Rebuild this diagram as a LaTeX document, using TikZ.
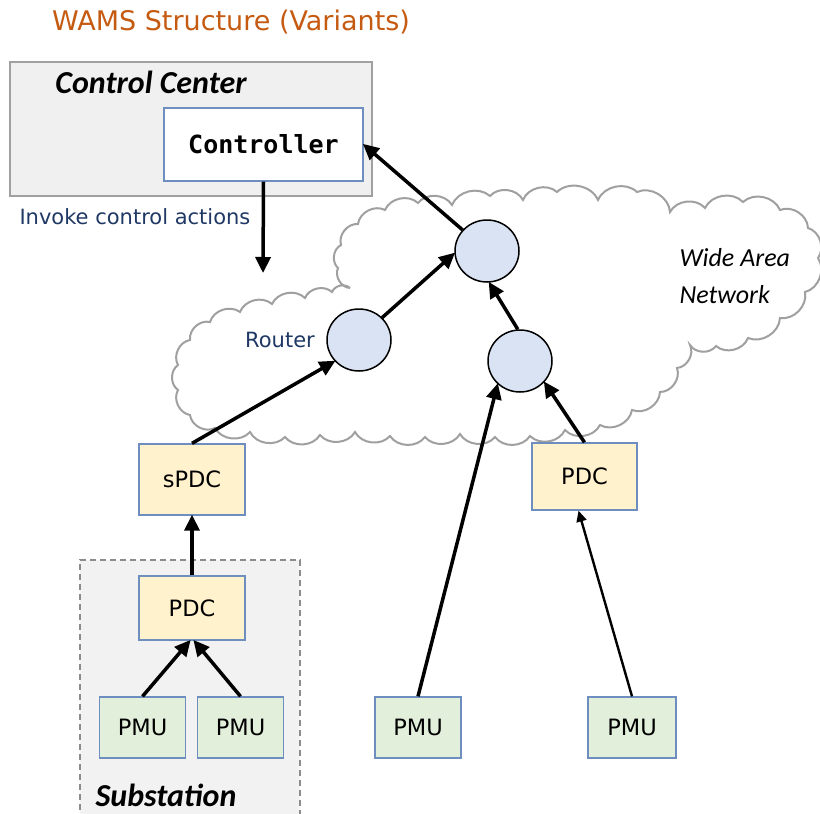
\documentclass[tikz,border=0pt]{standalone}
\usepackage{fontspec}
\setmainfont{DejaVu Sans}
\newfontfamily\calib{Carlito}
\newfontfamily\monofam{DejaVu Sans Mono}
\usetikzlibrary{arrows.meta,shapes.geometric}

\definecolor{titleorange}{RGB}{197,90,17}
\definecolor{navy}{RGB}{31,56,100}
\definecolor{boxedge}{RGB}{109,142,191}
\definecolor{pdcfill}{RGB}{255,242,204}
\definecolor{pmufill}{RGB}{226,239,218}
\definecolor{routerfill}{RGB}{218,227,243}
\definecolor{panelfill}{RGB}{240,240,240}
\definecolor{paneledge}{RGB}{160,160,160}
\definecolor{cloudedge}{RGB}{160,160,160}

\tikzset{
  unitbox/.style={draw=boxedge, line width=1.3pt, inner sep=0pt,
    font=\fontsize{22.5}{26}\selectfont},
  pdcbox/.style={unitbox, fill=pdcfill, minimum width=106pt, minimum height=68pt},
  pmubox/.style={unitbox, fill=pmufill, minimum width=86pt, minimum height=61pt},
  router/.style={ellipse, draw=black, line width=1.5pt, fill=routerfill,
    minimum width=64pt, minimum height=62pt, inner sep=0pt},
  flow/.style={line width=3.5pt, -{Triangle[length=16pt,width=15pt]}, shorten >=-1pt},
  thinflow/.style={line width=2.4pt, -{Triangle[length=11pt,width=10pt]}},
  panelhead/.style={font=\calib\bfseries\itshape\fontsize{32}{36}\selectfont},
  bluelabel/.style={text=navy, font=\fontsize{21}{25}\selectfont},
  scallop/.style={bend left=55},
}

\begin{document}
\begin{tikzpicture}[x=1pt, y=-1pt]
\useasboundingbox (0,0) rectangle (820,814);

% title
\node[text=titleorange, font=\fontsize{27}{32}\selectfont] (title) at (231,22) {WAMS Structure (Variants)};

% control center panel
\draw[fill=panelfill, draw=paneledge, line width=1.3pt] (10,62) rectangle (372,196);
\node[panelhead] (cclabel) at (151,82) {Control Center};
\node[draw=boxedge, fill=white, line width=1.2pt, minimum width=199pt, minimum height=73pt, inner sep=0pt,
  font=\monofam\bfseries\fontsize{25}{30}\selectfont]
  (ctrl) at (263.5,144.5) {Controller};

% substation panel
\fill[black!5] (80,560) rectangle (300,820);
\draw[draw=black!45, dash pattern=on 6pt off 4pt, line width=1.2pt] (80,820) -- (80,560) -- (300,560) -- (300,820);
\node[panelhead] (sublabel) at (166,795) {Substation};

% wide area network cloud
\draw[draw=cloudedge, fill=white, line width=2pt]
  (350,288) to[scallop] (338,268) to[scallop] (341,245) to[scallop] (358,224)
  to[scallop] (385,210) to[scallop] (418,203) to[scallop] (452,205) to[scallop] (490,196)
  to[scallop] (523,200) to[scallop] (557,192) to[scallop] (598,200) to[scallop] (637,192)
  to[scallop] (670,212) to[scallop] (705,208) to[scallop] (743,202) to[scallop] (780,210)
  to[scallop] (808,228) to[scallop] (818,258) to[scallop] (805,292) to[scallop] (780,318)
  to[scallop] (748,338) to[scallop] (716,346) to[scallop] (690,345) to[scallop] (677,368)
  to[scallop] (660,392) to[scallop] (632,410) to[scallop] (600,425) to[scallop] (565,430)
  to[scallop] (530,436) to[scallop] (495,437) to[scallop] (460,434) to[scallop] (425,437)
  to[scallop] (390,436) to[scallop] (355,432) to[scallop] (320,435) to[scallop] (285,437)
  to[scallop] (250,432) to[scallop] (215,428) to[scallop] (190,415) to[scallop] (178,390)
  to[scallop] (178,365) to[scallop] (190,340) to[scallop] (210,322) to[scallop] (240,312)
  to[scallop] (272,304) to[scallop] (305,298) to[scallop] (332,292) to[scallop] (350,288);
\node[align=left, anchor=west, font=\calib\itshape\fontsize{26}{37}\selectfont] (wan) at (676,276)
  {Wide Area\\Network};

% routers
\node[router] (rT) at (487,251) {};
\node[router] (rL) at (359,340) {};
\node[router] (rR) at (520,361) {};
\node[bluelabel] (rlabel) at (280,340) {Router};

% data concentrators and measurement units
\node[pdcbox, minimum height=71pt] (spdc) at (192,479.5) {sPDC};
\node[pdcbox, minimum height=64pt] (pdc1) at (192,608) {PDC};
\node[pdcbox, minimum height=67pt, minimum width=105pt] (pdc2) at (584.5,476.5) {PDC};
\node[pmubox] (pmu1) at (142.5,727.5) {PMU};
\node[pmubox] (pmu2) at (240.5,727.5) {PMU};
\node[pmubox] (pmu3) at (418,727.5) {PMU};
\node[pmubox, minimum width=88pt] (pmu4) at (632,727.5) {PMU};

% control action
\coordinate (act) at (263,272);
\draw[flow] (ctrl.south) -- (act);
\node[bluelabel, anchor=west] (actlabel) at (16,217) {Invoke control actions};

% data flow
\draw[flow] (rT) -- (ctrl.east);
\draw[flow] (rL.44) -- (rT.184);
\draw[flow] (rR.94) -- (rT.274);
\draw[flow] (spdc.north) -- (rL.221);
\draw[flow] (pmu3.north) -- (rR.226);
\draw[flow] (pdc2.north) -- (rR.319);
\draw[thinflow] (pmu4.north) -- ([xshift=-6pt]pdc2.south);
\draw[flow] (pdc1.north) -- (spdc.south);
\draw[flow] (pmu1.north) -- ([xshift=-2pt]pdc1.south);
\draw[flow] (pmu2.north) -- ([xshift=2pt]pdc1.south);
\end{tikzpicture}
\end{document}
